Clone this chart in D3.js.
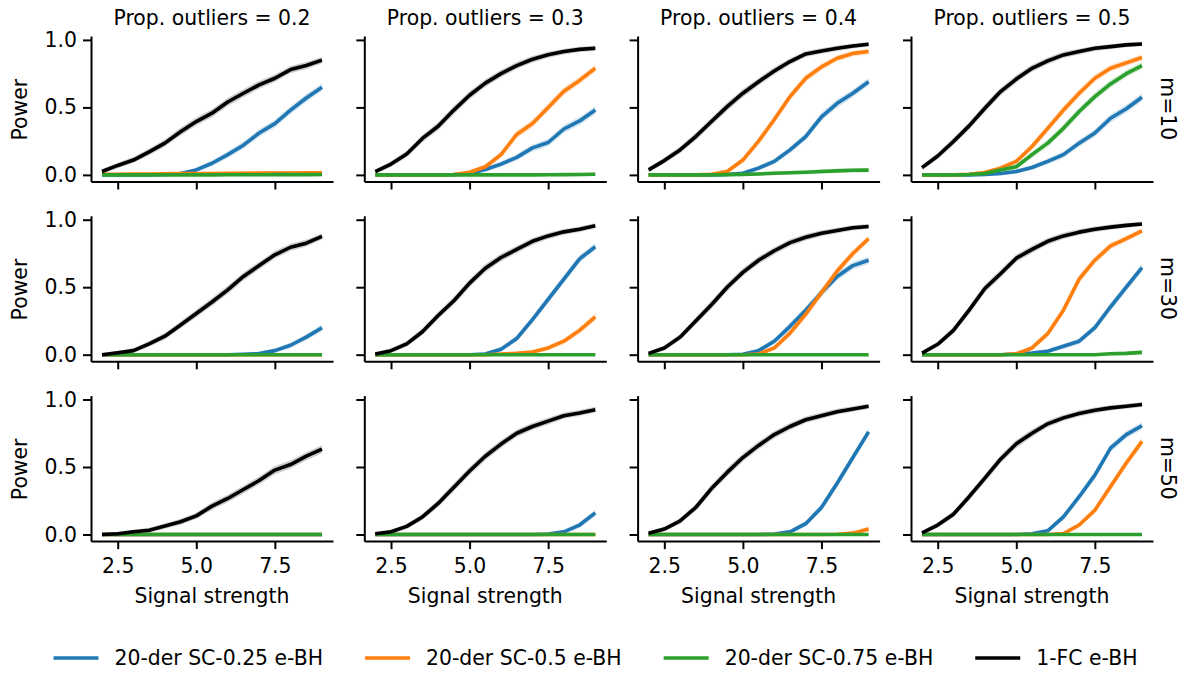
<!DOCTYPE html>
<html>
<head>
<meta charset="utf-8">
<script src="https://cdn.jsdelivr.net/npm/d3@7"></script>
<style>
  body { margin: 0; background: #fff; }
  svg { font-family: "DejaVu Sans", sans-serif; }
</style>
</head>
<body>
<div id="chart"></div>
<script>
// grid of power curves, rows = m, columns = proportion of outliers

var signal = [2, 2.5, 3, 3.5, 4, 4.5, 5, 5.5, 6, 6.5, 7, 7.5, 8, 8.5, 9];
var propOutliers = [0.2, 0.3, 0.4, 0.5];
var mValues = [10, 30, 50];
var methods = ["20-der SC-0.25 e-BH", "20-der SC-0.5 e-BH", "20-der SC-0.75 e-BH", "1-FC e-BH"];
var colors = ["#1f77b4", "#ff7f0e", "#2ca02c", "#000000"];
var yTicks = [0, 0.5, 1.0];
var xTicks = [2.5, 5.0, 7.5];

// each array: one row per prop. outliers (0.2, 0.3, 0.4, 0.5)
var sc025_m10 = [
  [0, 0, 0, 0, 0.003, 0.01, 0.037, 0.086, 0.15, 0.22, 0.31, 0.38, 0.48, 0.57, 0.65],
  [0, 0, 0, 0, 0, 0.002, 0.01, 0.04, 0.08, 0.13, 0.2, 0.24, 0.34, 0.4, 0.48],
  [0, 0, 0, 0, 0, 0.003, 0.012, 0.05, 0.1, 0.185, 0.284, 0.43, 0.53, 0.605, 0.69],
  [0, 0, 0, 0, 0.003, 0.01, 0.025, 0.055, 0.1, 0.15, 0.235, 0.31, 0.42, 0.49, 0.575]
];
var sc05_m10 = [
  [0.005, 0.005, 0.006, 0.007, 0.008, 0.009, 0.01, 0.01, 0.011, 0.012, 0.013, 0.014, 0.014, 0.015, 0.015],
  [0, 0, 0, 0, 0, 0.003, 0.02, 0.06, 0.15, 0.3, 0.38, 0.5, 0.62, 0.7, 0.79],
  [0, 0, 0, 0, 0.005, 0.025, 0.11, 0.25, 0.41, 0.58, 0.716, 0.8, 0.864, 0.9, 0.914],
  [0, 0, 0, 0.005, 0.017, 0.05, 0.1, 0.21, 0.345, 0.48, 0.605, 0.716, 0.79, 0.83, 0.87]
];
var sc075_m10 = [
  [0, 0, 0, 0, 0, 0, 0, 0, 0.001, 0.001, 0.001, 0.002, 0.002, 0.002, 0.003],
  [0, 0, 0, 0, 0, 0, 0, 0, 0, 0, 0, 0.001, 0.002, 0.003, 0.005],
  [0, 0, 0, 0, 0, 0.002, 0.004, 0.007, 0.012, 0.016, 0.02, 0.025, 0.03, 0.034, 0.035],
  [0, 0, 0, 0.003, 0.01, 0.037, 0.06, 0.15, 0.235, 0.345, 0.47, 0.58, 0.674, 0.75, 0.81]
];
var fc_m10 = [
  [0.025, 0.07, 0.11, 0.17, 0.235, 0.32, 0.395, 0.457, 0.54, 0.605, 0.667, 0.716, 0.78, 0.81, 0.85],
  [0.025, 0.08, 0.155, 0.27, 0.36, 0.48, 0.59, 0.68, 0.75, 0.81, 0.857, 0.89, 0.914, 0.93, 0.938],
  [0.037, 0.106, 0.185, 0.284, 0.395, 0.506, 0.605, 0.69, 0.77, 0.84, 0.896, 0.918, 0.938, 0.955, 0.968],
  [0.054, 0.14, 0.247, 0.363, 0.494, 0.617, 0.71, 0.79, 0.845, 0.889, 0.914, 0.938, 0.95, 0.963, 0.97]
];

var sc025_m30 = [
  [0, 0, 0, 0, 0, 0, 0, 0, 0, 0.003, 0.008, 0.03, 0.07, 0.13, 0.2],
  [0, 0, 0, 0, 0, 0, 0, 0.005, 0.04, 0.12, 0.26, 0.41, 0.56, 0.71, 0.8],
  [0, 0, 0, 0, 0, 0, 0.003, 0.03, 0.1, 0.21, 0.33, 0.46, 0.58, 0.66, 0.7],
  [0, 0, 0, 0, 0, 0, 0.005, 0.012, 0.025, 0.062, 0.1, 0.2, 0.355, 0.5, 0.645]
];
var sc05_m30 = [
  [0, 0, 0, 0, 0, 0, 0, 0, 0, 0, 0, 0, 0, 0, 0],
  [0, 0, 0, 0, 0, 0, 0, 0, 0.005, 0.01, 0.02, 0.05, 0.1, 0.18, 0.28],
  [0, 0, 0, 0, 0, 0, 0, 0.005, 0.05, 0.16, 0.3, 0.46, 0.62, 0.75, 0.86],
  [0, 0, 0, 0, 0, 0, 0.007, 0.05, 0.156, 0.33, 0.56, 0.7, 0.806, 0.86, 0.918]
];
var sc075_m30 = [
  [0, 0, 0, 0, 0, 0, 0, 0, 0, 0, 0, 0, 0, 0, 0],
  [0, 0, 0, 0, 0, 0, 0, 0, 0, 0, 0, 0, 0, 0, 0],
  [0, 0, 0, 0, 0, 0, 0, 0, 0, 0, 0, 0, 0, 0, 0],
  [0, 0, 0, 0, 0, 0, 0, 0, 0, 0, 0, 0, 0.007, 0.01, 0.017]
];
var fc_m30 = [
  [0, 0.015, 0.03, 0.08, 0.137, 0.22, 0.305, 0.39, 0.48, 0.58, 0.66, 0.74, 0.796, 0.826, 0.876],
  [0.005, 0.03, 0.08, 0.17, 0.29, 0.4, 0.53, 0.64, 0.72, 0.78, 0.84, 0.88, 0.91, 0.93, 0.955],
  [0.01, 0.05, 0.13, 0.25, 0.37, 0.5, 0.61, 0.7, 0.77, 0.83, 0.87, 0.9, 0.92, 0.94, 0.95],
  [0.012, 0.077, 0.18, 0.33, 0.49, 0.6, 0.715, 0.78, 0.84, 0.88, 0.908, 0.93, 0.945, 0.958, 0.968]
];

var sc025_m50 = [
  [0, 0, 0, 0, 0, 0, 0, 0, 0, 0, 0, 0, 0, 0, 0],
  [0, 0, 0, 0, 0, 0, 0, 0, 0, 0, 0, 0.003, 0.02, 0.07, 0.16],
  [0, 0, 0, 0, 0, 0, 0, 0, 0.003, 0.02, 0.08, 0.2, 0.38, 0.57, 0.76],
  [0, 0, 0, 0, 0, 0, 0, 0.005, 0.027, 0.13, 0.28, 0.44, 0.64, 0.74, 0.806]
];
var sc05_m50 = [
  [0, 0, 0, 0, 0, 0, 0, 0, 0, 0, 0, 0, 0, 0, 0],
  [0, 0, 0, 0, 0, 0, 0, 0, 0, 0, 0, 0, 0, 0, 0],
  [0, 0, 0, 0, 0, 0, 0, 0, 0, 0, 0, 0, 0.002, 0.01, 0.04],
  [0, 0, 0, 0, 0, 0, 0, 0, 0, 0.007, 0.07, 0.18, 0.355, 0.53, 0.69]
];
var sc075_m50 = [
  [0, 0, 0, 0, 0, 0, 0, 0, 0, 0, 0, 0, 0, 0, 0],
  [0, 0, 0, 0, 0, 0, 0, 0, 0, 0, 0, 0, 0, 0, 0],
  [0, 0, 0, 0, 0, 0, 0, 0, 0, 0, 0, 0, 0, 0, 0],
  [0, 0, 0, 0, 0, 0, 0, 0, 0, 0, 0, 0, 0, 0, 0]
];
var fc_m50 = [
  [0, 0.005, 0.02, 0.032, 0.062, 0.094, 0.138, 0.21, 0.267, 0.333, 0.4, 0.477, 0.518, 0.58, 0.632],
  [0.005, 0.02, 0.06, 0.13, 0.23, 0.35, 0.47, 0.58, 0.67, 0.75, 0.8, 0.84, 0.88, 0.9, 0.925],
  [0.01, 0.04, 0.1, 0.2, 0.34, 0.46, 0.57, 0.66, 0.74, 0.8, 0.85, 0.88, 0.91, 0.93, 0.95],
  [0.012, 0.07, 0.15, 0.28, 0.417, 0.558, 0.672, 0.75, 0.82, 0.864, 0.896, 0.92, 0.938, 0.95, 0.963]
];

// rows in the same order as mValues, methods in legend order
var rowData = [
  [sc025_m10, sc05_m10, sc075_m10, fc_m10],
  [sc025_m30, sc05_m30, sc075_m30, fc_m30],
  [sc025_m50, sc05_m50, sc075_m50, fc_m50]
];

var W = 1187, H = 675;
var colLeft = [91, 364.3, 637.6, 911];
var rowTop = [36, 215.8, 395.6];
var pw = 242, ph = 145.5;
var fs = 20.4;

var svg = d3.select("#chart").append("svg")
    .attr("width", W).attr("height", H);

var x = d3.scaleLinear().domain([1.65, 9.35]).range([0, pw]);
var y = d3.scaleLinear().domain([-0.049, 1.029]).range([ph, 0]);

var line = d3.line()
    .x(function(d) { return x(d.s); })
    .y(function(d) { return y(d.p); });

// light band around each curve, widest near p = 0.5
function halfBand(p) { return 0.04 * Math.sqrt(p * (1 - p)) + 0.01; }
var area = d3.area()
    .x(function(d) { return x(d.s); })
    .y0(function(d) { return y(d.p - halfBand(d.p)); })
    .y1(function(d) { return y(d.p + halfBand(d.p)); });

mValues.forEach(function(m, r) {
  propOutliers.forEach(function(po, c) {
    var g = svg.append("g")
        .attr("transform", "translate(" + colLeft[c] + "," + rowTop[r] + ")");

    methods.forEach(function(name, k) {
      var pts = signal.map(function(s, i) { return {s: s, p: rowData[r][k][c][i]}; });
      g.append("path").datum(pts)
        .attr("d", area)
        .attr("fill", colors[k])
        .attr("fill-opacity", 0.2);
      g.append("path").datum(pts)
        .attr("d", line)
        .attr("fill", "none")
        .attr("stroke", colors[k])
        .attr("stroke-width", 3.6)
        .attr("stroke-linejoin", "round");
    });

    var ya = g.append("g")
        .call(d3.axisLeft(y).tickValues(yTicks).tickSize(8).tickPadding(6).tickSizeOuter(0)
              .tickFormat(c === 0 ? d3.format(".1f") : ""));
    var xa = g.append("g")
        .attr("transform", "translate(0," + ph + ")")
        .call(d3.axisBottom(x).tickValues(xTicks).tickSize(8).tickPadding(9).tickSizeOuter(0)
              .tickFormat(r === 2 ? d3.format(".1f") : ""));

    [ya, xa].forEach(function(a) {
      a.select(".domain").attr("stroke-width", 2);
      a.selectAll(".tick line").attr("stroke-width", 2);
      a.selectAll("text").attr("font-size", fs).attr("fill", "#000")
        .attr("font-family", "DejaVu Sans");
    });

    if (r === 0) {
      g.append("text")
        .attr("x", pw / 2).attr("y", 25 - rowTop[0])
        .attr("text-anchor", "middle")
        .attr("font-size", fs)
        .text("Prop. outliers = " + po);
    }
    if (c === 0) {
      g.append("text")
        .attr("transform", "translate(" + (26.5 - colLeft[0]) + "," + (ph / 2 + 1) + ") rotate(-90)")
        .attr("text-anchor", "middle")
        .attr("font-size", fs)
        .text("Power");
    }
    if (r === 2) {
      g.append("text")
        .attr("x", pw / 2).attr("y", ph + 62)
        .attr("text-anchor", "middle")
        .attr("font-size", fs)
        .text("Signal strength");
    }
    if (c === 3) {
      g.append("text")
        .attr("transform", "translate(" + (1161 - colLeft[3]) + "," + (ph / 2) + ") rotate(90)")
        .attr("text-anchor", "middle")
        .attr("font-size", fs)
        .text("m=" + m);
    }
  });
});

// legend, one row centered under the grid
var legend = svg.append("g");
var lx = 0, legY = 658;
methods.forEach(function(name, k) {
  var item = legend.append("g").attr("transform", "translate(" + lx + ",0)");
  item.append("line")
    .attr("x1", 0).attr("x2", 45).attr("y1", legY).attr("y2", legY)
    .attr("stroke", colors[k]).attr("stroke-width", 3.6);
  var t = item.append("text")
    .attr("x", 61).attr("y", legY + 7)
    .attr("font-size", fs)
    .text(name);
  lx += 61 + t.node().getComputedTextLength() + 42;
});
var legW = lx - 42;
legend.attr("transform", "translate(" + ((W - legW) / 2 + 2) + ",0)");
</script>
</body>
</html>
